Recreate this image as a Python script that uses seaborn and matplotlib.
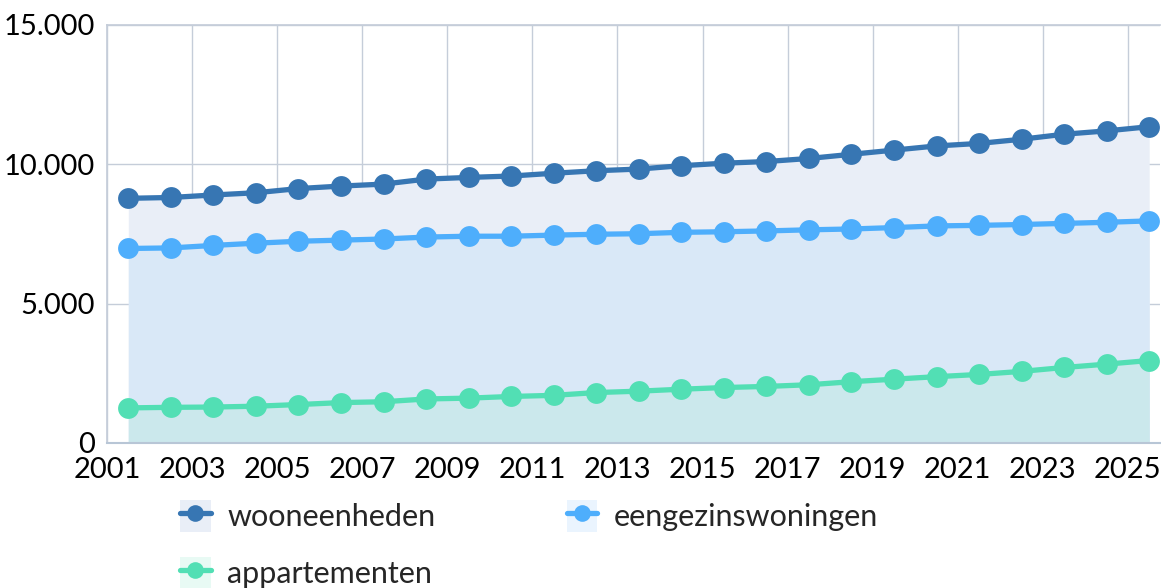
import matplotlib
matplotlib.use("Agg")
import matplotlib.pyplot as plt
import matplotlib.ticker as mticker
from matplotlib.lines import Line2D
from matplotlib.patches import Patch
import pandas as pd
import seaborn as sns

# data
jaren = [2001.5, 2002.5, 2003.5, 2004.5, 2005.5, 2006.5, 2007.5, 2008.5, 2009.5,
         2010.5, 2011.5, 2012.5, 2013.5, 2014.5, 2015.5, 2016.5, 2017.5, 2018.5,
         2019.5, 2020.5, 2021.5, 2022.5, 2023.5, 2024.5, 2025.5]
wooneenheden = [8780, 8810, 8900, 8980, 9130, 9220, 9290, 9470, 9530, 9580, 9680, 9770,
                9830, 9950, 10040, 10100, 10210, 10360, 10510, 10660, 10750, 10900,
                11080, 11200, 11350]
eengezinswoningen = [6980, 7000, 7090, 7170, 7240, 7280, 7320, 7390, 7420, 7420, 7460,
                     7490, 7510, 7560, 7580, 7610, 7650, 7680, 7730, 7790, 7810, 7840,
                     7880, 7920, 7970]
appartementen = [1260, 1280, 1290, 1320, 1380, 1450, 1480, 1580, 1610, 1670, 1710, 1810,
                 1860, 1930, 1990, 2030, 2090, 2200, 2290, 2380, 2460, 2570, 2710, 2830,
                 2960]
series = ["wooneenheden", "eengezinswoningen", "appartementen"]
kleuren = ["#3776b3", "#4eaefc", "#52dfb4"]
vulkleuren = ["#e9eef7", "#d9e8f7", "#cbe8ec"]
legendvulling = ["#e9eef7", "#eaf4fe", "#e8faf4"]
x_ticks = [2001, 2003, 2005, 2007, 2009, 2011, 2013, 2015, 2017, 2019, 2021, 2023, 2025]
y_ticks = [0, 5000, 10000, 15000]

sns.set_theme(style="white")
plt.rcParams["font.family"] = ["Lato", "DejaVu Sans"]

df = pd.DataFrame({
    "jaar": jaren * 3,
    "aantal": wooneenheden + eengezinswoningen + appartementen,
    "reeks": [s for s in series for _ in jaren],
})

fig = plt.figure(figsize=(11.61, 5.88), dpi=100)
ax = fig.add_axes([0.0922, 0.2466, 0.9068, 0.7109])

# area fills, back to front
for s, vk in zip(series, vulkleuren):
    sub = df[df["reeks"] == s]
    ax.fill_between(sub["jaar"], 0, sub["aantal"], color=vk, lw=0, zorder=1)

sns.lineplot(data=df, x="jaar", y="aantal", hue="reeks", hue_order=series,
             palette=kleuren, marker="o", markersize=15, markeredgewidth=0,
             linewidth=3.8, ax=ax, legend=False, zorder=3)

ax.set_xlim(2001, 2025.75)
ax.set_ylim(0, 15000)
ax.set_xticks(x_ticks)
ax.set_yticks(y_ticks)
ax.yaxis.set_major_formatter(mticker.FuncFormatter(lambda v, p: f"{int(v):,}".replace(",", ".")))
ax.grid(True, color="#c5cdd9", linewidth=1.0, zorder=0)
ax.set_axisbelow(True)
ax.tick_params(axis="both", length=0, labelsize=21, colors="black")
ax.tick_params(axis="x", pad=10)
ax.tick_params(axis="y", pad=9)
ax.set_xlabel("")
ax.set_ylabel("")
ax.spines["right"].set_visible(False)
ax.spines["top"].set_color("#c5cdd9")
ax.spines["left"].set_color("#c5cdd9")
ax.spines["bottom"].set_color("#b8c6d6")
ax.spines["bottom"].set_linewidth(1.5)

handles = [(Patch(facecolor=vk, edgecolor="none"),
            Line2D([], [], color=k, lw=3.8, marker="o", markersize=12, markeredgewidth=0))
           for k, vk in zip(kleuren, legendvulling)]
# matplotlib fills columns first: reorder so rows read woon | eengezins, app
volgorde = [0, 2, 1]
fig.legend([handles[i] for i in volgorde], [series[i] for i in volgorde],
           loc="upper left", bbox_to_anchor=(0.155, 0.15),
           ncol=2, frameon=False, fontsize=22, handlelength=1.0, handleheight=1.25,
           handletextpad=0.55, columnspacing=4.3, labelspacing=0.8, borderpad=0,
           borderaxespad=0)

fig.savefig("out.png", dpi=100)
